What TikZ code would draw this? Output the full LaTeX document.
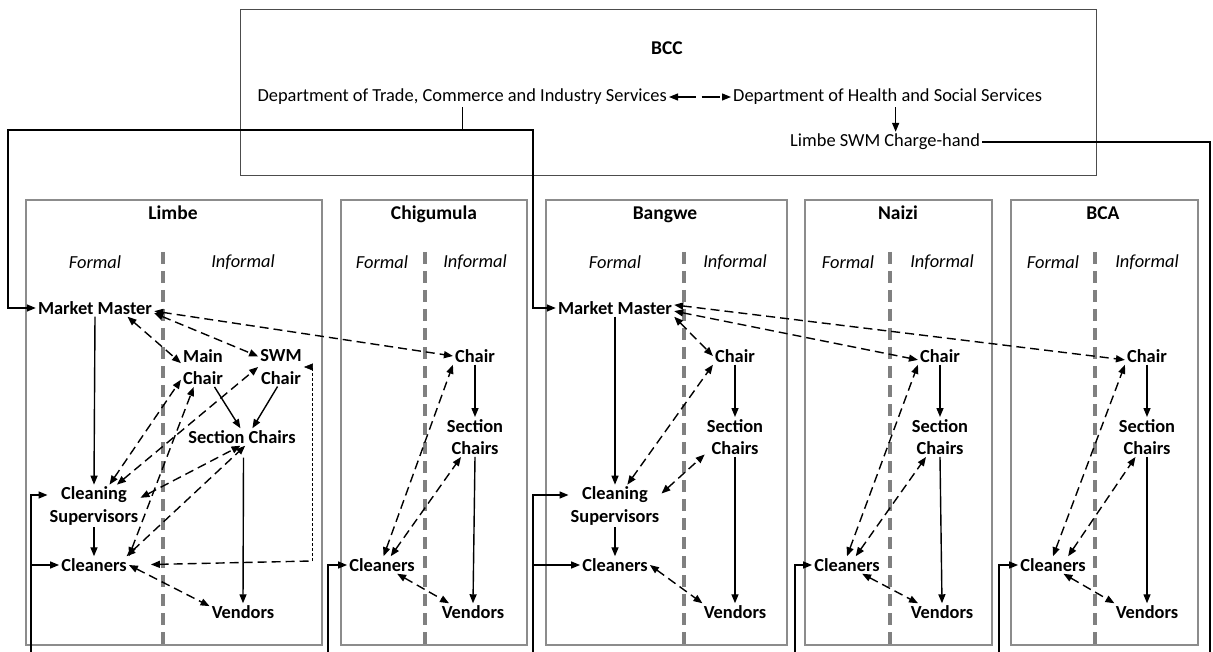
\documentclass[tikz,border=0pt]{standalone}
\usepackage{fontspec}
\setmainfont{Carlito}
\usetikzlibrary{arrows.meta}
\newcommand{\dsize}{\fontsize{18.4}{22.5}\selectfont}

\tikzset{
  lbl/.style={font=\dsize\bfseries, align=center, inner sep=2pt},
  head/.style={font=\fontsize{19.5}{22}\selectfont\bfseries, inner sep=2pt, text height=13pt, text depth=4pt},
  dept/.style={font=\dsize, inner sep=2pt},
  side/.style={font=\dsize\itshape, inner sep=2pt},
  district/.style={draw=black!45, line width=1.2pt},
  divider/.style={draw=black!50, line width=4.5pt, dash pattern=on 12pt off 7pt},
  solid arrow/.style={->, line width=1.4pt},
  dash link/.style={line width=1.4pt, dash pattern=on 9pt off 5pt},
  link/.style={dash link, <->},
  feed/.style={->, line width=1.4pt}
}

\begin{document}
\begin{tikzpicture}[x=1pt,y=-1pt,>={Triangle[length=9pt,width=7pt]}]
\useasboundingbox (0,0) rectangle (1213,652);

\draw[draw=black!70, line width=1pt] (240,10) rectangle (1096,176);
\node[head] (bcc) at (667,50) {BCC};
\node[dept, anchor=east] (trade) at (669,97) {Department of Trade, Commerce and Industry Services};
\node[dept, anchor=west] (health) at (731,97) {Department of Health and Social Services};
\node[dept, anchor=west] (charge) at (788,142) {Limbe SWM Charge-hand};

\draw[district] (26,200) rectangle (322,645);
\draw[district] (341,200) rectangle (527,645);
\draw[district] (546,200) rectangle (787,645);
\draw[district] (805,200) rectangle (992,645);
\draw[district] (1011,200) rectangle (1198,645);

\draw[divider] (163,252) -- (163,648);
\draw[divider] (425,252) -- (425,648);
\draw[divider] (684,252) -- (684,648);
\draw[divider] (890,252) -- (890,648);
\draw[divider] (1095,252) -- (1095,648);

\node[head] (limbe) at (173,215) {Limbe};
\node[head] (chigumula) at (434,215) {Chigumula};
\node[head] (bangwe) at (665,215) {Bangwe};
\node[head] (naizi) at (898,215) {Naizi};
\node[head] (bca) at (1103,215) {BCA};

\node[side] (lFormal) at (95,262) {Formal};
\node[side] (lInformal) at (243,262) {Informal};
\node[side] (cFormal) at (382,262) {Formal};
\node[side] (cInformal) at (475,262) {Informal};
\node[side] (bFormal) at (615,262) {Formal};
\node[side] (bInformal) at (735,262) {Informal};
\node[side] (nFormal) at (848,262) {Formal};
\node[side] (nInformal) at (942,262) {Informal};
\node[side] (aFormal) at (1053,262) {Formal};
\node[side] (aInformal) at (1147,262) {Informal};

\node[lbl] (lMM) at (95,308) {Market Master};
\node[lbl] (lMain) at (203,367) {Main\\Chair};
\node[lbl] (lSWM) at (281,367) {SWM\\Chair};
\node[lbl] (lSec) at (242,437) {Section Chairs};
\node[lbl] (lSup) at (94,506) {Cleaning\\Supervisors};
\node[lbl] (lCln) at (94,565) {Cleaners};
\node[lbl] (lVen) at (243,612) {Vendors};

\node[lbl] (cChair) at (475,356) {Chair};
\node[lbl] (cSec) at (475,437) {Section\\Chairs};
\node[lbl] (cCln) at (382,565) {Cleaners};
\node[lbl] (cVen) at (473,612) {Vendors};

\node[lbl] (bMM) at (615,308) {Market Master};
\node[lbl] (bChair) at (735,356) {Chair};
\node[lbl] (bSec) at (735,437) {Section\\Chairs};
\node[lbl] (bSup) at (615,506) {Cleaning\\Supervisors};
\node[lbl] (bCln) at (615,565) {Cleaners};
\node[lbl] (bVen) at (735,612) {Vendors};

\node[lbl] (nChair) at (940,356) {Chair};
\node[lbl] (nSec) at (940,437) {Section\\Chairs};
\node[lbl] (nCln) at (847,565) {Cleaners};
\node[lbl] (nVen) at (942,612) {Vendors};

\node[lbl] (aChair) at (1147,356) {Chair};
\node[lbl] (aSec) at (1147,437) {Section\\Chairs};
\node[lbl] (aCln) at (1053,565) {Cleaners};
\node[lbl] (aVen) at (1147,612) {Vendors};

\draw[<->, line width=1.2pt, dash pattern=on 18pt off 6pt] (trade) -- (health);
\draw[feed] ([xshift=8pt]health.south) -- ([xshift=8pt]health.south |- charge.north);

\coordinate (tradeL) at (8,130);
\coordinate (tradeR) at (533,130);
\draw[feed] (trade.south) |- (tradeL) |- (lMM.west);
\draw[feed] (trade.south) |- (tradeR) |- (bMM.west);

\coordinate (chargeBot) at (1210,652);
\draw[line width=1.4pt] (charge.east) -| (chargeBot);

\coordinate (lBot) at (31,652);
\coordinate (cBot) at (328,652);
\coordinate (bBot) at (533,652);
\coordinate (nBot) at (795,652);
\coordinate (aBot) at (999,652);
\draw[feed] (lBot) |- ([yshift=11pt]lSup.west);
\draw[feed] (lBot) |- (lCln.west);
\draw[feed] (cBot) |- (cCln.west);
\draw[feed] (bBot) |- ([yshift=11pt]bSup.west);
\draw[feed] (bBot) |- (bCln.west);
\draw[feed] (nBot) |- (nCln.west);
\draw[feed] (aBot) |- (aCln.west);

\draw[solid arrow] (lMM.south) -- (lSup.north);
\draw[solid arrow] (lSup.south) -- (lCln.north);
\draw[solid arrow] (lMain.-60) -- (lSec.100);
\draw[solid arrow] (lSWM.-100) -- (lSec.40);
\draw[solid arrow, shorten <=12pt] (lSec.-80) -- (lVen.north);
\draw[link] (lMM.-15) -- (lMain.170);
\draw[link] (lMM.-5) -- (lSWM.155);
\draw[link] (lMM.-3) -- (cChair.west);
\draw[link] (lSup.54) -- (lMain.210);
\draw[link] (lSup.43) -- (lSWM.west);
\draw[link] (lSup.10) -- (lSec.-100);
\draw[link] (lCln.north east) -- (lMain.-115);
\draw[link] (lCln.15) -- (lSec.-70);
\draw[link] (lCln.east) -- (lVen.170);
\coordinate (lLoop) at (312,561);
\draw[dash link, <-, shorten <=22pt] (lCln.east) -- (lLoop);
\draw[->, line width=0.6pt, dash pattern=on 3pt off 2pt] (lLoop) |- (lSWM.east);

\draw[solid arrow] (cChair.south) -- (cSec.north);
\draw[solid arrow] (cSec.south) -- (cVen.north);
\draw[link] (cCln.80) -- (cChair.south west);
\draw[link] (cCln.45) -- (cSec.235);
\draw[link] (cCln.-30) -- (cVen.160);

\draw[solid arrow] (bMM.south) -- (bSup.north);
\draw[solid arrow] (bSup.south) -- (bCln.north);
\draw[solid arrow] (bChair.south) -- (bSec.north);
\draw[solid arrow] (bSec.south) -- (bVen.north);
\draw[link] (bMM.south east) -- (bChair.west);
\draw[link] (bSup.60) -- (bChair.south west);
\draw[link] (bSup.15) -- (bSec.210);
\draw[link] (bCln.east) -- (bVen.165);
\draw[link] (bMM.3) -- (aChair.190);
\draw[link] (bMM.-3) -- (nChair.190);

\draw[solid arrow] (nChair.south) -- (nSec.north);
\draw[solid arrow] (nSec.south) -- (nVen.north);
\draw[link] (nCln.north) -- (nChair.south west);
\draw[link] (nCln.45) -- (nSec.235);
\draw[link] (nCln.-30) -- (nVen.160);

\draw[solid arrow] (aChair.south) -- (aSec.north);
\draw[solid arrow] (aSec.south) -- (aVen.north);
\draw[link] (aCln.north) -- (aChair.south west);
\draw[link] (aCln.30) -- (aSec.240);
\draw[link] (aCln.-40) -- (aVen.165);
\end{tikzpicture}
\end{document}
